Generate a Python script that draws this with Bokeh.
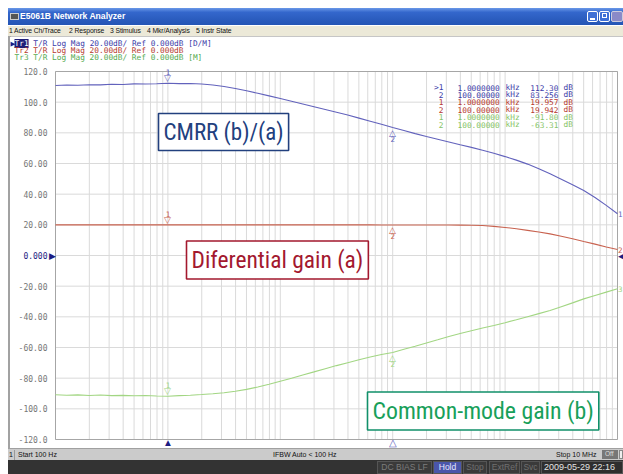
import math
from bokeh.plotting import figure
from bokeh.models import ColumnDataSource, Label, LabelSet, Div
from bokeh.layouts import column, row
from bokeh.core.properties import value
from bokeh.embed import file_html
from bokeh.resources import INLINE

# ---------------- data ----------------
freq_hz = [100, 126, 158, 200, 251, 316, 398, 501, 631, 794,
           1000, 1259, 1585, 1995, 2512, 3162, 3981, 5012, 6310, 7943,
           10000, 12589, 15849, 19953, 25119, 31623, 39811, 50119, 63096, 79433,
           100000, 125893, 158489, 199526, 251189, 316228, 398107, 501187, 630957, 794328,
           1000000, 1258925, 1584893, 1995262, 2511886, 3162278, 3981072, 5011872, 6309573, 7943282,
           10000000]

cmrr_db = [110.9, 111.2, 111.0, 111.4, 111.3, 111.7, 111.5, 111.9, 111.8, 112.0,
           112.3, 112.1, 112.2, 111.8, 111.2, 110.2, 108.9, 107.4, 105.8, 104.1,
           102.4, 100.6, 98.8, 97.0, 95.2, 93.4, 91.6, 89.6, 87.6, 85.6,
           83.5, 81.5, 79.5, 77.6, 75.8, 74.0, 72.2, 70.5, 68.6, 66.7,
           64.5, 62.2, 59.6, 56.6, 53.3, 49.8, 46.2, 42.4, 37.8, 32.7,
           27.2]

diff_db = [19.96, 19.95, 19.97, 19.96, 19.95, 19.96, 19.97, 19.96, 19.95, 19.96,
           19.96, 19.97, 19.96, 19.95, 19.96, 19.96, 19.95, 19.96, 19.96, 19.95,
           19.96, 19.95, 19.96, 19.95, 19.96, 19.95, 19.95, 19.96, 19.95, 19.94,
           19.94, 19.93, 19.92, 19.90, 19.88, 19.85, 19.80, 19.70, 19.55, 19.00,
           18.30, 17.40, 16.40, 15.30, 14.10, 12.60, 10.90, 9.10, 7.40, 5.60,
           3.90]

cm_db = [-90.8, -91.1, -90.9, -91.3, -91.0, -91.4, -91.2, -91.5, -91.3, -91.6,
         -91.8, -91.4, -91.1, -90.7, -90.2, -89.5, -88.5, -87.3, -85.8, -84.0,
         -82.0, -80.0, -77.9, -75.9, -73.8, -71.8, -69.9, -68.0, -66.2, -64.6,
         -63.3, -61.2, -59.2, -57.1, -55.0, -52.8, -50.9, -49.1, -47.3, -45.6,
         -43.8, -41.9, -39.9, -37.9, -35.9, -33.4, -30.9, -28.3, -26.1, -23.9,
         -21.7]

marker_freq_hz = [1000, 100000]
marker_ids = ["1", "2"]
marker_cmrr_db = [112.30, 83.256]
marker_diff_db = [19.957, 19.942]
marker_cm_db = [-91.80, -63.31]

y_ticks = [120, 100, 80, 60, 40, 20, 0, -20, -40, -60, -80, -100, -120]
y_tick_labels = ["120.0", "100.0", "80.00", "60.00", "40.00", "20.00", "0.000",
                 "-20.00", "-40.00", "-60.00", "-80.00", "-100.0", "-120.0"]
decade_ticks = [100, 1000, 10000, 100000, 1000000, 10000000]

F_MIN, F_MAX = 100, 10000000     # sweep start / stop
Y_MIN, Y_MAX = -120, 120         # display scale

# ---------------- geometry ----------------
FIG_W, FIG_H = 613, 412          # figure canvas
PAD_L, PAD_R, PAD_T, PAD_B = 45, 6, 35, 9   # grid area inside the canvas
FIG_X0, FIG_Y1 = 10, 448         # canvas left / bottom on the page


def sx(px):
    return px - FIG_X0


def sy(py):
    return FIG_Y1 - py


# extend ranges so the grid occupies the inner area while labels can live outside it
_dec = math.log10(F_MAX) - math.log10(F_MIN)
_ppd = (FIG_W - PAD_L - PAD_R) / _dec
x_lo = 10 ** (math.log10(F_MIN) - PAD_L / _ppd)
x_hi = 10 ** (math.log10(F_MAX) + PAD_R / _ppd)
_ppdb = (FIG_H - PAD_T - PAD_B) / (Y_MAX - Y_MIN)
y_lo = Y_MIN - PAD_B / _ppdb
y_hi = Y_MAX + PAD_T / _ppdb

# ---------------- styles ----------------
BLUE = "#6262bc"
RED = "#c8624f"
GREEN = "#a2d683"
NAVY = "#1c1c82"
TXT_BLUE = "#3c3ca8"
TXT_RED = "#b53a2f"
TXT_GREEN = "#55aa50"
TBL_GREEN = "#86c466"
MONO_S = "DejaVu Sans Mono"
MONO = value(MONO_S)
MONO_SIZE = "7.8px"
PITCH = 4.7

p = figure(width=FIG_W, height=FIG_H, x_axis_type="log", x_range=(x_lo, x_hi), y_range=(y_lo, y_hi),
           x_axis_location=None, y_axis_location=None, title=None,
           output_backend="svg", toolbar_location=None,
           min_border_left=0, min_border_right=0, min_border_top=0, min_border_bottom=0)
p.background_fill_color = "white"
p.border_fill_color = "white"
p.outline_line_color = None
p.grid.visible = False

# grid
minor = [m * d for d in decade_ticks[:-1] for m in range(2, 10)]
vx = decade_ticks + minor
p.segment(x0=vx, y0=[Y_MIN] * len(vx), x1=vx, y1=[Y_MAX] * len(vx),
          line_color="#dadada", line_width=1)
p.segment(x0=[F_MIN] * len(y_ticks), y0=y_ticks, x1=[F_MAX] * len(y_ticks), y1=y_ticks,
          line_color="#dadada", line_width=1)
p.quad(left=[F_MIN], right=[F_MAX], bottom=[Y_MIN], top=[Y_MAX], fill_color=None,
       line_color="#a6a6a6", line_width=1)

# traces
p.line(freq_hz, cmrr_db, line_color=BLUE, line_width=1.1)
p.line(freq_hz, diff_db, line_color=RED, line_width=1.1)
p.line(freq_hz, cm_db, line_color=GREEN, line_width=1.1)

# y tick labels
tick_colors = [NAVY if v == 0 else "#767676" for v in y_ticks]
p.add_layout(LabelSet(x=sx(47), y="y", text="t", text_color="c", x_units="screen", y_units="data",
                      source=ColumnDataSource(dict(y=y_ticks, t=y_tick_labels, c=tick_colors)),
                      text_align="right", text_baseline="middle", text_font=MONO,
                      text_font_size="8px"))

# reference level arrows
p.add_layout(Label(x=sx(48), y=0, x_units="screen", text="▶", text_color=NAVY,
                   text_font_size="9px", text_baseline="middle", text_align="left"))
p.add_layout(Label(x=sx(617), y=0, x_units="screen", text="◀", text_color=NAVY,
                   text_font_size="9px", text_baseline="middle", text_align="left"))

# trace end labels
for num, vals, col in (("1", cmrr_db, BLUE), ("2", diff_db, RED), ("3", cm_db, GREEN)):
    p.add_layout(Label(x=sx(617.5), y=vals[-1], x_units="screen", text=num, text_color=col,
                       text_font=MONO_S, text_font_size="7.5px", text_baseline="middle"))

# markers on the traces
for vals, col in ((marker_cmrr_db, BLUE), (marker_diff_db, RED), (marker_cm_db, GREEN)):
    for i, (f, v) in enumerate(zip(marker_freq_hz, vals)):
        if i == 0:
            sym, base, off_n, nb = "▽", "bottom", 8, "bottom"
        else:
            sym, base, off_n, nb = "△", "top", -8, "top"
        p.add_layout(Label(x=f, y=v, text=sym, text_color=col, text_font_size="9px",
                           text_align="center", text_baseline=base))
        p.add_layout(Label(x=f, y=v, text=marker_ids[i], text_color=col, text_font=MONO_S,
                           text_font_size="7.5px", text_align="center", text_baseline=nb,
                           y_offset=off_n))

# stimulus markers under the grid
p.add_layout(Label(x=marker_freq_hz[0], y=sy(447.5), y_units="screen", text="▲", text_color=NAVY,
                   text_font_size="10px", text_align="center", text_baseline="bottom"))
p.add_layout(Label(x=marker_freq_hz[1], y=sy(447.5), y_units="screen", text="△", text_color=BLUE,
                   text_font_size="10px", text_align="center", text_baseline="bottom"))

# trace header lines
p.add_layout(Label(x=sx(9), y=sy(43), x_units="screen", y_units="screen", text="▶", text_color=NAVY,
                   text_font_size="7px", text_baseline="middle"))
p.add_layout(Label(x=sx(14), y=sy(43), x_units="screen", y_units="screen", text="Tr1",
                   text_color="white", background_fill_color="#1e1e78", text_font=MONO_S,
                   text_font_size=MONO_SIZE, text_baseline="middle"))
p.add_layout(Label(x=sx(14) + 4 * PITCH, y=sy(43), x_units="screen", y_units="screen",
                   text="T/R Log Mag 20.00dB/ Ref 0.000dB [D/M]", text_color=TXT_BLUE,
                   text_font=MONO_S, text_font_size=MONO_SIZE, text_baseline="middle"))
p.add_layout(Label(x=sx(14), y=sy(50), x_units="screen", y_units="screen",
                   text="Tr2 T/R Log Mag 20.00dB/ Ref 0.000dB", text_color=TXT_RED,
                   text_font=MONO_S, text_font_size=MONO_SIZE, text_baseline="middle"))
p.add_layout(Label(x=sx(14), y=sy(57), x_units="screen", y_units="screen",
                   text="Tr3 T/R Log Mag 20.00dB/ Ref 0.000dB [M]", text_color=TXT_GREEN,
                   text_font=MONO_S, text_font_size=MONO_SIZE, text_baseline="middle"))


# marker table (6-character readouts, as the analyzer prints them)
def fmt6(v):
    ip = str(int(abs(v)))
    dec = 6 - 1 - len(ip) - (1 if v < 0 else 0)
    return f"{v:.{dec}f}"


def fmt_khz(f):
    v = f / 1000
    dec = 9 - 1 - len(str(int(v)))
    return f"{v:.{dec}f}"


rows_id, rows_f, rows_v, rows_c, rows_y = [], [], [], [], []
for k, (vals, col) in enumerate(((marker_cmrr_db, TXT_BLUE), (marker_diff_db, TXT_RED),
                                 (marker_cm_db, TBL_GREEN))):
    for i in range(2):
        rows_id.append((">" if (k == 0 and i == 0) else "") + marker_ids[i])
        rows_f.append(fmt_khz(marker_freq_hz[i]))
        rows_v.append(fmt6(vals[i]))
        rows_c.append(col)
        rows_y.append(sy(87 + 7.4 * len(rows_y)))
tsrc = ColumnDataSource(dict(y=rows_y, id=rows_id, f=rows_f, v=rows_v, c=rows_c,
                             u=["kHz"] * 6, db=["dB"] * 6))
for xpos, field, align in ((443, "id", "right"), (457, "f", "left"), (505, "u", "left"),
                           (558, "v", "right"), (563, "db", "left")):
    p.add_layout(LabelSet(x=sx(xpos), y="y", text=field, text_color="c", source=tsrc,
                          x_units="screen", y_units="screen", text_align=align,
                          text_baseline="middle", text_font=MONO, text_font_size=MONO_SIZE))

# boxed captions
BIG = "Roboto Condensed, Roboto"
for text, px_, py_, size, col, bcol in (
        ("CMRR (b)/(a)", 158, 131.5, "23px", "#22407e", "#22407e"),
        ("Diferential gain (a)", 186, 259.5, "23.5px", "#a3182e", "#a3182e"),
        ("Common-mode gain (b)", 367, 410.5, "23.8px", "#18a05a", "#11906a")):
    p.add_layout(Label(x=sx(px_), y=sy(py_), x_units="screen", y_units="screen", text=text,
                       text_color=col, text_font=BIG, text_font_size=size,
                       text_baseline="middle", text_align="left",
                       border_line_color=bcol, border_line_width=1.6,
                       background_fill_color="white", padding=5))


# ---------------- window chrome ----------------
def box(left, top, w, h, style=""):
    return (f'<div style="position:absolute;left:{left}px;top:{top}px;width:{w}px;height:{h}px;'
            f'box-sizing:border-box;{style}"></div>')


def txt(left, top, s, style=""):
    return (f'<span style="position:absolute;left:{left}px;top:{top}px;white-space:nowrap;'
            f'line-height:1;{style}">{s}</span>')


SANS = "font-family:'Liberation Sans',Arial,sans-serif;"

title_html = (
    '<div style="position:relative;width:615px;height:17px;overflow:hidden;'
    'background:linear-gradient(to bottom,#6a98e8 0%,#3467cc 25%,#2a5bbd 70%,#2455b5 100%);">'
    + box(2, 5, 9, 7, "background:#555;border:1px solid #ccc;")
    + txt(12, 4, "E5061B Network Analyzer", SANS + "font-size:8.6px;font-weight:bold;color:#fff;")
    + box(579, 3, 11, 11, "background:#3e70d6;border:1px solid #fff;border-radius:2px;")
    + box(582, 10, 5, 2, "background:#fff;")
    + box(591, 3, 11, 11, "background:#3e70d6;border:1px solid #fff;border-radius:2px;")
    + box(594, 5, 5, 5, "border:1px solid #fff;")
    + box(603, 3, 12, 11, "background:#8a8ac8;border:1px solid #ccd;border-radius:2px;")
    + '</div>')

menu_items = [(1, "1 Active Ch/Trace"), (61, "2 Response"), (102, "3 Stimulus"),
              (139, "4 Mkr/Analysis"), (188, "5 Instr State")]
menu_html = ('<div style="position:relative;width:615px;height:11px;overflow:hidden;'
             'background:#ece9d8;border-bottom:1px solid #8c8c8c;box-sizing:border-box;">'
             + "".join(txt(l, 2, s, SANS + "font-size:6.8px;color:#111;letter-spacing:-0.1px;")
                       for l, s in menu_items)
             + '</div>')

status_html = ('<div style="position:relative;width:615px;height:12px;overflow:hidden;'
               'background:#cbcbcb;border-top:1px solid #a0a0a0;box-sizing:border-box;">'
               + txt(1, 2, "1", SANS + "font-size:7px;color:#111;")
               + box(6, 1, 1, 10, "background:#999;")
               + txt(10, 2, "Start 100 Hz", SANS + "font-size:7px;color:#111;")
               + txt(265, 2, "IFBW Auto &lt; 100 Hz", SANS + "font-size:7px;color:#111;")
               + txt(548, 2, "Stop 10 MHz", SANS + "font-size:7px;color:#111;")
               + box(594, 1, 16, 9, "background:#777;")
               + txt(597, 2, "Off", SANS + "font-size:6.5px;color:#ddd;")
               + box(611, 1, 4, 9, "background:#eee;border:1px solid #888;")
               + '</div>')

dark_items = [(369, 55, "DC BIAS LF", "#7c7c7c", "#3a3a3a"),
              (425, 29, "Hold", "#e8e8ff", "#4a56aa"),
              (455, 24, "Stop", "#707070", "#3a3a3a"),
              (481, 31, "ExtRef", "#707070", "#3a3a3a"),
              (513, 19, "Svc", "#707070", "#3a3a3a")]
dark_html = ('<div style="position:relative;width:615px;height:14px;overflow:hidden;'
             'background:#333333;">'
             + "".join(
                 f'<div style="position:absolute;left:{l}px;top:1px;width:{w}px;height:13px;'
                 f'box-sizing:border-box;border:1px solid #555;background:{bg};color:{c};'
                 f'{SANS}font-size:8.5px;line-height:11px;text-align:center;">{s}</div>'
                 for l, w, s, c, bg in dark_items)
             + f'<div style="position:absolute;left:533px;top:1px;width:82px;height:13px;'
               f'box-sizing:border-box;border:1px solid #555;background:#2e2e2e;color:#e4e4e4;'
               f'{SANS}font-size:9px;line-height:11px;padding-left:2px;">2009-05-29 22:16</div>'
             + '</div>')

title_div = Div(text=title_html, width=615, height=17, margin=0)
menu_div = Div(text=menu_html, width=615, height=11, margin=0)
edge_div = Div(text='<div style="width:2px;height:412px;background:#a2a2a2;"></div>',
               width=2, height=412, margin=0)
status_div = Div(text=status_html, width=615, height=12, margin=0)
dark_div = Div(text=dark_html, width=615, height=14, margin=0)

layout = column(title_div, menu_div, row(edge_div, p, spacing=0), status_div, dark_div,
                spacing=0, margin=(8, 0, 0, 8))

open("out.html", "w").write(file_html(layout, INLINE))
